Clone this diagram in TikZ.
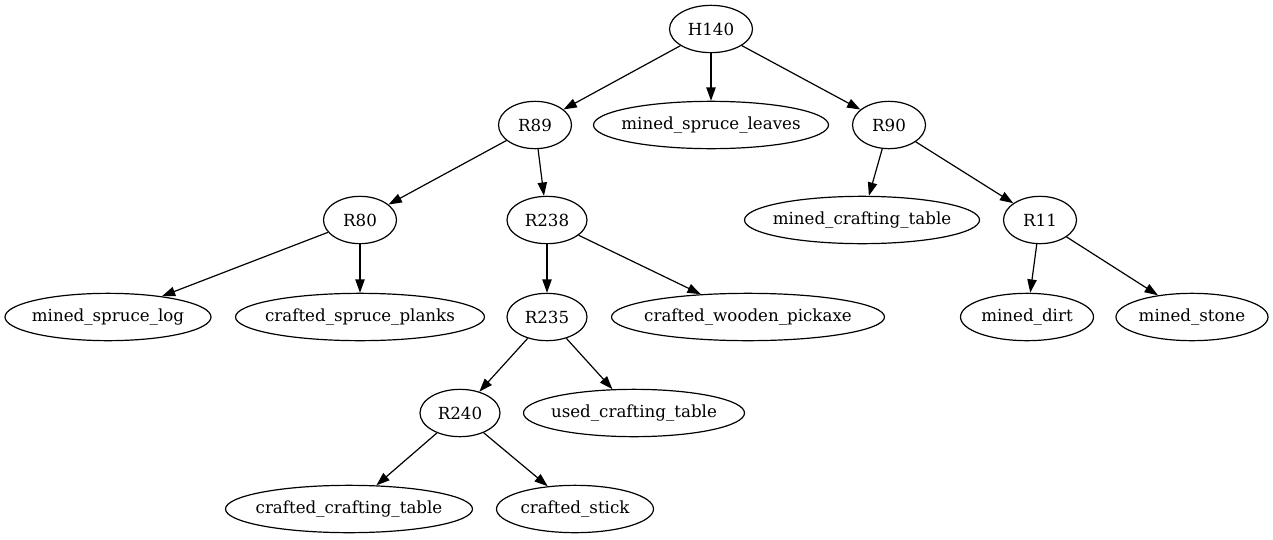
\documentclass[tikz,border=0pt]{standalone}
\usepackage{fontspec}
\setmainfont{DejaVu Serif}
\usetikzlibrary{shapes.geometric,arrows.meta}
\begin{document}
\begin{tikzpicture}[x=0.75pt,y=-0.75pt,
  nd/.style={ellipse,draw,line width=0.9pt,inner xsep=-30pt,inner ysep=0pt,
    minimum height=35.5pt,minimum width=#1*0.75pt,
    font=\fontsize{12.5pt}{14pt}\selectfont},
  edge/.style={line width=0.9pt,-{Triangle[length=10pt,width=7pt]}}]
\useasboundingbox (0,0) rectangle (1273,539);
\node[nd=83] (H140) at (711,29) {H140};
\node[nd=73] (R89) at (535,125) {R89};
\node[nd=235] (leaves) at (711,125) {mined\_spruce\_leaves};
\node[nd=73] (R90) at (889,125) {R90};
\node[nd=73] (R80) at (360,220) {R80};
\node[nd=80] (R238) at (547,220) {R238};
\node[nd=235] (mct) at (862,220) {mined\_crafting\_table};
\node[nd=73] (R11) at (1040,220) {R11};
\node[nd=206] (log) at (108,317) {mined\_spruce\_log};
\node[nd=249] (planks) at (360,317) {crafted\_spruce\_planks};
\node[nd=80] (R235) at (547,317) {R235};
\node[nd=273] (pick) at (748,317) {crafted\_wooden\_pickaxe};
\node[nd=133] (dirt) at (1027,317) {mined\_dirt};
\node[nd=152] (stone) at (1192,317) {mined\_stone};
\node[nd=80] (R240) at (460,413) {R240};
\node[nd=221] (uct) at (634,413) {used\_crafting\_table};
\node[nd=247] (cct) at (349,509) {crafted\_crafting\_table};
\node[nd=157] (stick) at (575,509) {crafted\_stick};
\draw[edge] (H140) -- (R89);
\draw[edge] (H140) -- (leaves);
\draw[edge] (H140) -- (R90);
\draw[edge] (R89) -- (R80);
\draw[edge] (R89) -- (R238);
\draw[edge] (R90) -- (mct);
\draw[edge] (R90) -- (R11);
\draw[edge] (R80) -- (log);
\draw[edge] (R80) -- (planks);
\draw[edge] (R238) -- (R235);
\draw[edge] (R238) -- (pick);
\draw[edge] (R11) -- (dirt);
\draw[edge] (R11) -- (stone);
\draw[edge] (R235) -- (R240);
\draw[edge] (R235) -- (uct);
\draw[edge] (R240) -- (cct);
\draw[edge] (R240) -- (stick);
\end{tikzpicture}
\end{document}
